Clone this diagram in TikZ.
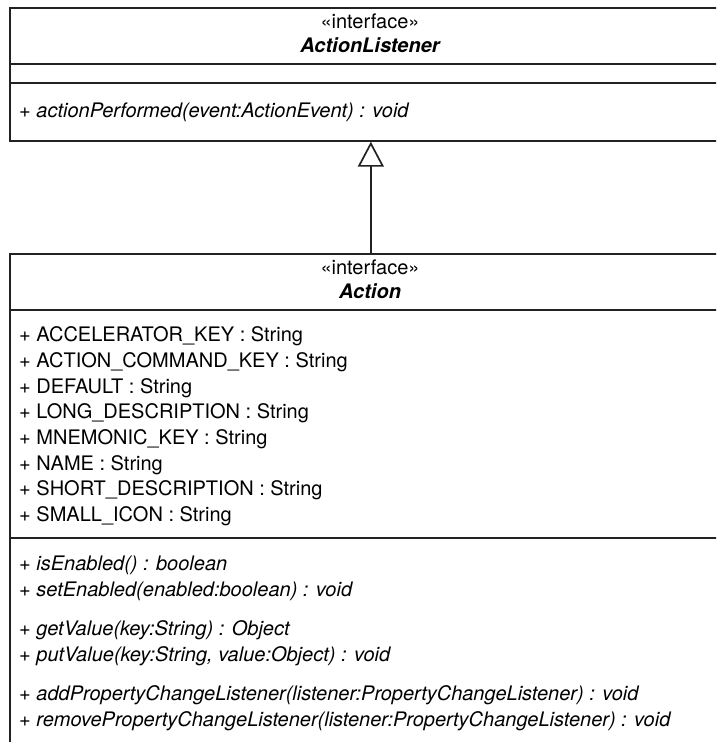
\documentclass[tikz,border=0pt]{standalone}
\usepackage{fontspec}
\setmainfont{TeX Gyre Heros}
\usetikzlibrary{arrows.meta}
\definecolor{umlline}{HTML}{222222}
\begin{document}
\begin{tikzpicture}[x=1pt,y=-1pt,
  umlbox/.style={draw=umlline, line width=1.7pt, inner sep=0pt, anchor=north west},
  stereo/.style={anchor=base, inner sep=0pt, font=\fontsize{20}{24}\selectfont},
  classname/.style={anchor=base, inner sep=0pt, font=\fontsize{20}{24}\selectfont\bfseries\itshape},
  member/.style={anchor=base west, inner sep=0pt, font=\fontsize{20}{24}\selectfont},
  operation/.style={member, font=\fontsize{20}{24}\selectfont\itshape},
  divider/.style={draw=umlline, line width=1.7pt},
  realize/.style={draw=umlline, line width=1.7pt,
    -{Triangle[open, length=25pt, width=26pt, fill=white]}}
]
\useasboundingbox (0,0) rectangle (716,742);
\clip (0,0) rectangle (716,742);

% ActionListener interface
\node[umlbox, minimum width=722pt, minimum height=133pt] (listener) at (9,7) {};
\draw[divider] (9,64) -- (731,64);
\draw[divider] (9,83) -- (731,83);
\node[stereo]    (lstereo) at (370,28) {«interface»};
\node[classname] (lname)   at (370,52) {ActionListener};
\node[operation] (lop1)    at (19,117) {+ actionPerformed(event:ActionEvent) : void};

% Action interface
\node[umlbox, minimum width=722pt, minimum height=520pt] (action) at (9,253) {};
\draw[divider] (9,310) -- (731,310);
\draw[divider] (9,538) -- (731,538);
\node[stereo]    (astereo) at (370,274) {«interface»};
\node[classname] (aname)   at (370,298) {Action};

\node[member] (f1) at (19,341.7) {+ ACCELERATOR\_KEY : String};
\node[member] (f2) at (19,367.4) {+ ACTION\_COMMAND\_KEY : String};
\node[member] (f3) at (19,393.1) {+ DEFAULT : String};
\node[member] (f4) at (19,418.8) {+ LONG\_DESCRIPTION : String};
\node[member] (f5) at (19,444.5) {+ MNEMONIC\_KEY : String};
\node[member] (f6) at (19,470.2) {+ NAME : String};
\node[member] (f7) at (19,495.9) {+ SHORT\_DESCRIPTION : String};
\node[member] (f8) at (19,521.6) {+ SMALL\_ICON : String};

\node[operation] (m1) at (19,570) {+ isEnabled() : boolean};
\node[operation] (m2) at (19,596) {+ setEnabled(enabled:boolean) : void};
\node[operation] (m3) at (19,635) {+ getValue(key:String) : Object};
\node[operation] (m4) at (19,661) {+ putValue(key:String, value:Object) : void};
\node[operation] (m5) at (19,700) {+ addPropertyChangeListener(listener:PropertyChangeListener) : void};
\node[operation] (m6) at (19,726) {+ removePropertyChangeListener(listener:PropertyChangeListener) : void};

% realization: Action extends ActionListener
\draw[realize] (action.north) -- (listener.south);
\end{tikzpicture}
\end{document}
